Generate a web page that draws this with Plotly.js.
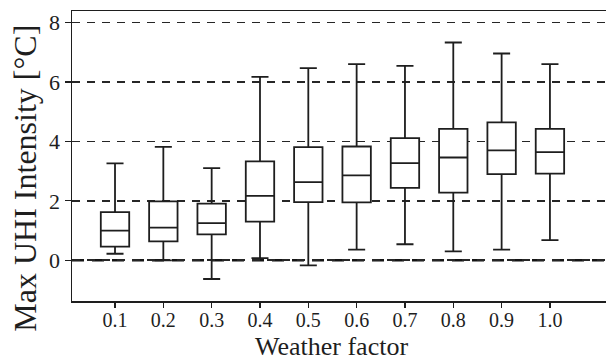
<!DOCTYPE html>
<html>
<head>
<meta charset="utf-8">
<script src="https://cdn.plot.ly/plotly-3.0.1.min.js"></script>
<style>html,body{margin:0;padding:0;background:#fff;}#chart{width:606px;height:361px;}</style>
</head>
<body>
<div id="chart"></div>
<script>
const categories = ['0.1','0.2','0.3','0.4','0.5','0.6','0.7','0.8','0.9','1.0'];
const lowerWhisker = [0.22, 0.00, -0.63, 0.07, -0.17, 0.36, 0.54, 0.30, 0.36, 0.68];
const q1Values     = [0.46, 0.64, 0.87, 1.30, 1.96, 1.95, 2.44, 2.28, 2.90, 2.92];
const medianValues = [1.00, 1.10, 1.25, 2.17, 2.63, 2.86, 3.27, 3.46, 3.70, 3.64];
const q3Values     = [1.62, 1.98, 1.91, 3.33, 3.81, 3.83, 4.11, 4.42, 4.64, 4.42];
const upperWhisker = [3.26, 3.82, 3.10, 6.17, 6.47, 6.60, 6.54, 7.33, 6.96, 6.60];
const yTicks = [0, 2, 4, 6, 8];
const xTitle = 'Weather factor';
const yTitle = 'Max UHI Intensity [°C]';

const font = '"Liberation Serif", "Times New Roman", serif';
const ink = '#1e1e1e';

const trace = {
  type: 'box',
  x: categories,
  q1: q1Values,
  median: medianValues,
  q3: q3Values,
  lowerfence: lowerWhisker,
  upperfence: upperWhisker,
  fillcolor: '#ffffff',
  line: {color: ink, width: 1.8},
  whiskerwidth: 0.6,
  boxpoints: false,
  hoverinfo: 'skip',
  showlegend: false
};

const layout = {
  width: 606,
  height: 361,
  margin: {l: 72, r: 0, t: 11, b: 60},
  paper_bgcolor: '#ffffff',
  plot_bgcolor: '#ffffff',
  boxgap: 0.16,
  font: {family: font, color: ink},
  xaxis: {
    type: 'category',
    range: [-0.89, 10.16],
    showgrid: false,
    zeroline: false,
    showline: true,
    linecolor: ink,
    linewidth: 1.5,
    mirror: true,
    ticks: 'outside',
    ticklen: 5,
    tickwidth: 1.2,
    tickcolor: ink,
    ticklabelstandoff: -5,
    tickfont: {family: font, size: 20, color: ink},
    automargin: false
  },
  yaxis: {
    range: [-1.37, 8.39],
    tickvals: yTicks,
    ticktext: yTicks.map(String),
    showgrid: true,
    gridcolor: '#262626',
    gridwidth: 1.6,
    griddash: '8px,7px',
    zeroline: false,
    showline: true,
    linecolor: ink,
    linewidth: 1.5,
    ticks: 'outside',
    ticklen: 6,
    tickwidth: 1.2,
    tickcolor: ink,
    tickfont: {family: font, size: 22, color: ink},
    automargin: false
  },
  annotations: [
    {text: xTitle, xref: 'paper', yref: 'paper', x: (331 - 72) / 534, y: (300.7 - 346) / 289.7,
     xanchor: 'center', yanchor: 'middle', showarrow: false, borderpad: 0,
     font: {family: font, size: 26, color: ink}},
    {text: yTitle, xref: 'paper', yref: 'paper', x: (25 - 72) / 534, y: (300.7 - 178.5) / 289.7,
     xanchor: 'center', yanchor: 'middle', showarrow: false, textangle: -90, borderpad: 0,
     font: {family: font, size: 32, color: ink}}
  ],
  shapes: [{
    type: 'line', xref: 'paper', x0: 0, x1: 1, yref: 'y', y0: 0, y1: 0,
    line: {color: '#151515', width: 2.6, dash: '12px,8px'}, layer: 'below'
  }]
};

Plotly.newPlot('chart', [trace], layout, {displayModeBar: false, staticPlot: true});
</script>
</body>
</html>
